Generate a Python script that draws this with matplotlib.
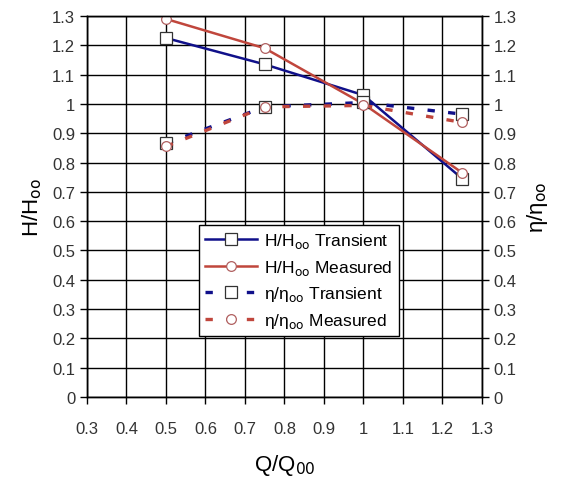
import numpy as np
import matplotlib
matplotlib.use("Agg")
import matplotlib.pyplot as plt

plt.rcParams['font.family'] = ['Liberation Sans', 'DejaVu Sans']

q = [0.5, 0.75, 1.0, 1.25]
h_transient = [1.225, 1.135, 1.03, 0.745]
h_measured = [1.29, 1.19, 1.0, 0.765]
eta_transient = [0.865, 0.99, 1.005, 0.965]
eta_measured = [0.855, 0.99, 0.995, 0.937]

navy = '#10108a'
red = '#c0463c'

fig = plt.figure(figsize=(5.7, 4.81), dpi=100)
ax = fig.add_axes([0.1526, 0.1726, 0.693, 0.792])
ax2 = ax.twinx()

l1, = ax.plot(q, h_transient, color=navy, lw=1.8, marker='s', ms=8,
              mfc='white', mec='#333333', mew=0.9, label='H/H$_{\\rm oo}$ Transient')
l2, = ax.plot(q, h_measured, color=red, lw=1.8, marker='o', ms=7,
              mfc='white', mec='#b06060', mew=0.9, label='H/H$_{\\rm oo}$ Measured')
l3, = ax2.plot(q, eta_transient, color=navy, lw=2.4, ls=(0, (2.2, 4)), marker='s', ms=8,
               mfc='white', mec='#333333', mew=0.9, label='η/η$_{\\rm oo}$ Transient')
l4, = ax2.plot(q, eta_measured, color=red, lw=2.4, ls=(0, (2.2, 4)), marker='o', ms=7,
               mfc='white', mec='#b06060', mew=0.9, label='η/η$_{\\rm oo}$ Measured')

ticks_y = np.round(np.arange(0, 1.31, 0.1), 1)
ticks_x = np.round(np.arange(0.3, 1.31, 0.1), 1)

def fmt(v):
    return '%g' % v

for a in (ax, ax2):
    a.set_xlim(0.3, 1.3)
    a.set_ylim(0, 1.3)
    a.set_yticks(ticks_y)
    a.set_yticklabels([fmt(v) for v in ticks_y])
    a.tick_params(axis='both', direction='out', length=5, width=1, labelsize=12,
                  colors='black', labelcolor='#333333')
    for s in a.spines.values():
        s.set_linewidth(1)
        s.set_color('black')

ax.set_xticks(ticks_x)
ax.set_xticklabels([fmt(v) for v in ticks_x])
ax.tick_params(axis='x', pad=12)
ax.grid(True, color='black', lw=1)
ax.set_axisbelow(True)

ax.set_ylabel('H/H$_{\\rm oo}$', fontsize=16, labelpad=6)
ax2.set_ylabel('η/η$_{\\rm oo}$', fontsize=16, labelpad=6)
ax.set_xlabel('Q/Q$_{\\rm 00}$', fontsize=16, labelpad=12)

leg = ax2.legend(handles=[l1, l2, l3, l4], loc='upper left',
                 bbox_to_anchor=(0.262, 0.475), fontsize=12.5, frameon=True,
                 fancybox=False, edgecolor='black', framealpha=1,
                 handlelength=3.0, borderpad=0.35, labelspacing=0.45,
                 handletextpad=0.4)
leg.get_frame().set_linewidth(1)

fig.savefig('out.png', dpi=100)
